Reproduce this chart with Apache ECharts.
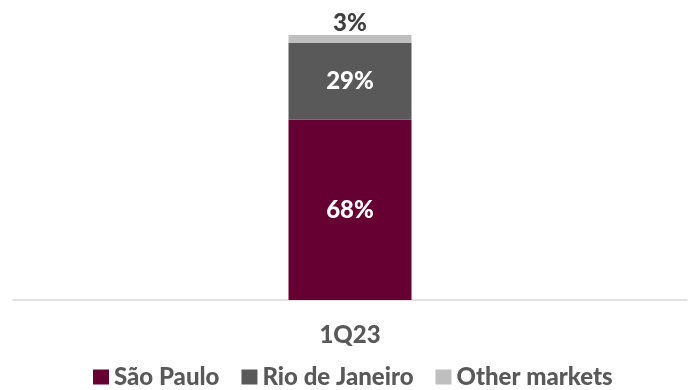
<!DOCTYPE html>
<html>
<head>
<meta charset="utf-8">
<script src="https://cdn.jsdelivr.net/npm/echarts@6/dist/echarts.min.js"></script>
<style>
  html, body { margin: 0; padding: 0; background: #fff; }
  #chart { width: 694px; height: 390px; }
</style>
</head>
<body>
<div id="chart"></div>
<script>
// Market share by region, 1Q23 (percent of total)
const categories = ['1Q23'];
const seriesNames = ['São Paulo', 'Rio de Janeiro', 'Other markets'];
const saoPaulo = [68];
const rioDeJaneiro = [29];
const otherMarkets = [3];

const colors = ['#660033', '#595959', '#BFBFBF'];
const font = 'Lato, "Open Sans", sans-serif';
const weight = 900;

const chart = echarts.init(document.getElementById('chart'), null, { renderer: 'canvas' });

function barSeries(name, data, color, label) {
  return {
    name: name,
    type: 'bar',
    stack: 'total',
    data: data,
    barWidth: 123,
    itemStyle: { color: color },
    label: label,
    emphasis: { disabled: true }
  };
}

const insideLabel = {
  show: true,
  position: 'inside',
  formatter: '{c}%',
  color: '#ffffff',
  fontFamily: font,
  fontWeight: weight,
  fontSize: 24
};

chart.setOption({
  animation: false,
  backgroundColor: '#ffffff',
  grid: { left: 13, right: 7, top: 35, bottom: 90, containLabel: false },
  legend: {
    top: 365,
    left: 93,
    padding: 0,
    itemWidth: 16,
    itemHeight: 15,
    itemGap: 22,
    icon: 'rect',
    textStyle: { color: '#595959', fontFamily: font, fontWeight: weight, fontSize: 24 },
    data: seriesNames
  },
  xAxis: {
    type: 'category',
    data: categories,
    axisLine: { show: true, lineStyle: { color: '#D9D9D9', width: 1.5 } },
    axisTick: { show: false },
    axisLabel: { color: '#595959', fontFamily: font, fontWeight: weight, fontSize: 24, margin: 23 }
  },
  yAxis: {
    type: 'value',
    min: 0,
    max: 100,
    show: false,
    splitLine: { show: false }
  },
  series: [
    barSeries(seriesNames[0], saoPaulo, colors[0], insideLabel),
    barSeries(seriesNames[1], rioDeJaneiro, colors[1], insideLabel),
    barSeries(seriesNames[2], otherMarkets, colors[2], {
      show: true,
      position: 'top',
      distance: 0,
      formatter: '{c}%',
      color: '#404040',
      fontFamily: font,
      fontWeight: weight,
      fontSize: 24
    })
  ]
});
</script>
</body>
</html>
